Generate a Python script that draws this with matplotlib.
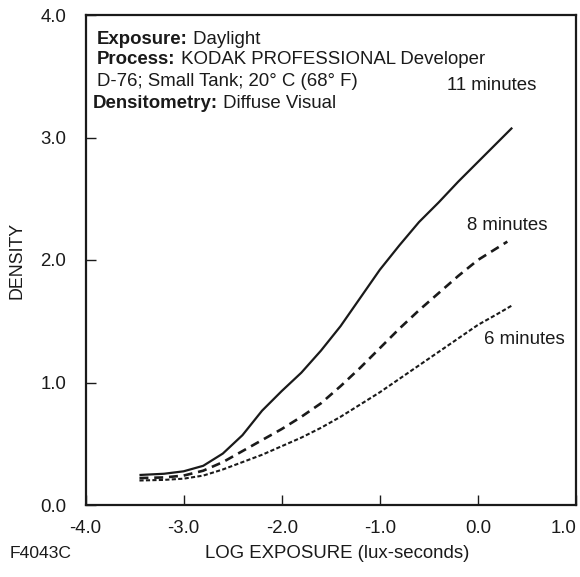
import matplotlib
matplotlib.use('Agg')
from matplotlib import pyplot as plt

plt.rcParams['font.family'] = ['Liberation Sans', 'DejaVu Sans']

# characteristic curves
log_e_11 = [-3.45, -3.2, -3.0, -2.8, -2.6, -2.4, -2.2, -2.0, -1.8, -1.6, -1.4, -1.2, -1.0,
            -0.8, -0.6, -0.4, -0.2, 0.0, 0.2, 0.35]
dens_11 = [0.245, 0.255, 0.275, 0.32, 0.42, 0.57, 0.77, 0.93, 1.08, 1.26, 1.46, 1.69, 1.92,
           2.12, 2.31, 2.47, 2.64, 2.80, 2.96, 3.08]

log_e_8 = [-3.45, -3.2, -3.0, -2.8, -2.6, -2.4, -2.2, -2.0, -1.8, -1.6, -1.4, -1.2, -1.0,
           -0.8, -0.6, -0.4, -0.2, 0.0, 0.2, 0.3]
dens_8 = [0.22, 0.225, 0.24, 0.28, 0.35, 0.44, 0.53, 0.62, 0.72, 0.83, 0.97, 1.12, 1.28,
          1.44, 1.59, 1.73, 1.87, 2.0, 2.10, 2.15]

log_e_6 = [-3.45, -3.2, -3.0, -2.8, -2.6, -2.4, -2.2, -2.0, -1.8, -1.6, -1.4, -1.2, -1.0,
           -0.8, -0.6, -0.4, -0.2, 0.0, 0.2, 0.35]
dens_6 = [0.20, 0.205, 0.215, 0.24, 0.29, 0.35, 0.41, 0.48, 0.55, 0.63, 0.72, 0.82, 0.92,
          1.03, 1.14, 1.25, 1.36, 1.47, 1.56, 1.63]

x_ticks = [-4.0, -3.0, -2.0, -1.0, 0.0, 1.0]
y_ticks = [0.0, 1.0, 2.0, 3.0, 4.0]

ink = '#1a1a1a'
fs = 13.4
W, H = 580, 577


def fx(px):
    return px / W


def fy(py):
    return 1 - py / H


fig = plt.figure(figsize=(5.8, 5.77), dpi=100)
ax = fig.add_axes([fx(85.5), fy(505), 490.5 / W, 490 / H])

ax.plot(log_e_11, dens_11, color=ink, lw=1.6, solid_capstyle='butt')
ax.plot(log_e_8, dens_8, color=ink, lw=1.9, linestyle=(0, (3.4, 2.2)))
ax.plot(log_e_6, dens_6, color=ink, lw=1.5, linestyle=(0, (2.0, 1.1)))

ax.set_xlim(-4, 1)
ax.set_ylim(0, 4)
ax.set_xticks(x_ticks)
ax.set_yticks(y_ticks)
ax.set_xticklabels([f'{v:.1f}' for v in x_ticks])
ax.set_yticklabels([f'{v:.1f}' for v in y_ticks])
ax.tick_params(direction='in', length=7, width=1, colors=ink, labelsize=fs)
ax.tick_params(axis='y', pad=14)
ax.tick_params(axis='x', pad=11)
ax.get_xticklabels()[-1].set_horizontalalignment('right')
for s in ax.spines.values():
    s.set_linewidth(1.6)
    s.set_color(ink)

fig.text(fx(17), fy(260), 'DENSITY', rotation=90, ha='center', va='center', fontsize=fs - 0.6, color=ink)
fig.text(fx(337), fy(553), 'LOG EXPOSURE (lux-seconds)', ha='center', va='center', fontsize=fs, color=ink)
fig.text(fx(10), fy(553), 'F4043C', ha='left', va='center', fontsize=fs - 0.8, color=ink)

# header block: bold key followed by normal text
header = [(97, 37, 'Exposure:', ' Daylight'),
          (97, 58, 'Process:', ' KODAK PROFESSIONAL Developer'),
          (97, 79, '', 'D-76; Small Tank; 20° C (68° F)'),
          (93, 101, 'Densitometry:', ' Diffuse Visual')]
for px, py, key, rest in header:
    if key:
        t = fig.text(fx(px), fy(py), key, fontweight='bold', ha='left', va='center_baseline',
                     fontsize=fs, color=ink)
        ax.annotate(rest, xy=(1, 0), xycoords=t, ha='left', va='bottom', fontsize=fs, color=ink)
    else:
        fig.text(fx(px), fy(py), rest, ha='left', va='center_baseline', fontsize=fs, color=ink)

fig.text(fx(492), fy(85), '11 minutes', ha='center', va='center', fontsize=fs, color=ink)
fig.text(fx(507), fy(226), '8 minutes', ha='center', va='center', fontsize=fs, color=ink)
fig.text(fx(524), fy(340), '6 minutes', ha='center', va='center', fontsize=fs, color=ink)

fig.savefig('out.png', dpi=100)
